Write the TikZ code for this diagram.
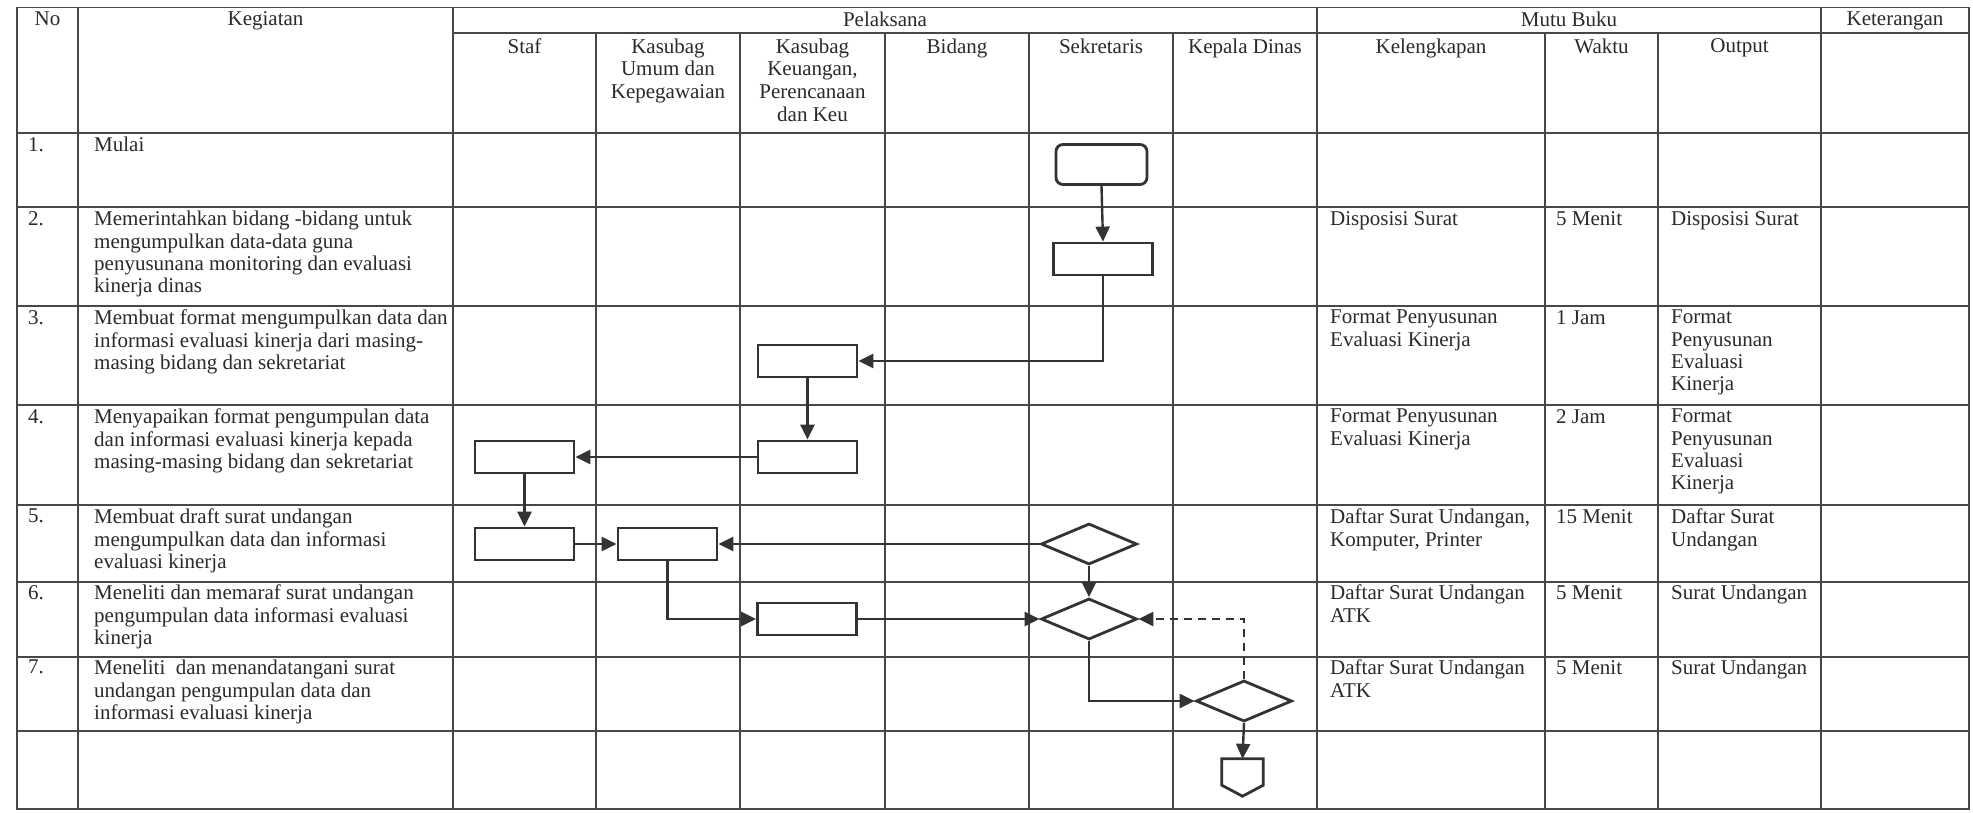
\documentclass[tikz,border=0pt]{standalone}
\usepackage{fontspec}
\setmainfont{Liberation Serif}
\usetikzlibrary{shapes.geometric,arrows.meta,calc}
\definecolor{gridc}{HTML}{474747}
\definecolor{shapec}{HTML}{333333}
\definecolor{textc}{HTML}{2A2A2A}
\begin{document}
\begin{tikzpicture}[x=1pt,y=-1pt,
  gridline/.style={draw=gridc, line width=1.6pt},
  pbox/.style={draw=shapec, line width=2.8pt, minimum width=99pt, minimum height=32pt, inner sep=0pt},
  startbox/.style={pbox, rounded corners=7pt, minimum width=91pt, minimum height=40pt},
  decbox/.style={diamond, draw=shapec, line width=2.8pt, minimum width=96pt, minimum height=41pt, inner sep=0pt},
  flow/.style={draw=shapec, line width=2.4pt, -{Triangle[length=15pt,width=14pt]}},
  cellt/.style={anchor=north west, inner sep=0pt, align=left, text=textc, font=\fontsize{21}{22.3}\selectfont},
  hdrt/.style={anchor=north, inner sep=0pt, align=center, text=textc, font=\fontsize{21}{22.6}\selectfont}]
\useasboundingbox (0,0) rectangle (1973,812);
\fill[white] (0,0) rectangle (1973,812);

% ---------- grid ----------
\draw[gridline] (17,7.5) rectangle (1969,809);
\foreach \x in {78,453,1317,1821} \draw[gridline] (\x,7.5) -- (\x,809);
\foreach \x in {596,740,885,1029,1173,1545,1658} \draw[gridline] (\x,33) -- (\x,809);
\draw[gridline] (453,33) -- (1969,33);
\foreach \y in {133,207,306,405,505,582,657,731} \draw[gridline] (17,\y) -- (1969,\y);

% ---------- header ----------
\node[hdrt] (hno) at (47.5,11.5) {No};
\node[hdrt] (hkeg) at (265.5,11.5) {Kegiatan};
\node[hdrt] (hpel) at (885,11.5) {Pelaksana};
\node[hdrt] (hmutu) at (1569,11.5) {Mutu Buku};
\node[hdrt] (hket) at (1895,11.5) {Keterangan};
\node[hdrt] (hstaf) at (524.5,38.5) {Staf};
\node[hdrt] (hkuk) at (668,38.5) {Kasubag\\Umum dan\\Kepegawaian};
\node[hdrt] (hkkp) at (812.5,38.5) {Kasubag\\Keuangan,\\Perencanaan\\dan Keu};
\node[hdrt] (hbid) at (957,38.5) {Bidang};
\node[hdrt] (hsek) at (1101,38.5) {Sekretaris};
\node[hdrt] (hkd) at (1245,38.5) {Kepala Dinas};
\node[hdrt] (hkel) at (1431,38.5) {Kelengkapan};
\node[hdrt] (hwak) at (1601.5,38.5) {Waktu};
\node[hdrt] (hout) at (1739.5,38.5) {Output};

% ---------- rows ----------
\node[cellt] (n1) at (28,137) {1.};
\node[cellt] (k1) at (94,137) {Mulai};

\node[cellt] (n2) at (28,211) {2.};
\node[cellt] (k2) at (94,211) {Memerintahkan bidang -bidang untuk\\mengumpulkan data-data guna\\penyusunana monitoring dan evaluasi\\kinerja dinas};
\node[cellt] (l2) at (1330,211) {Disposisi Surat};
\node[cellt] (w2) at (1556,211) {5 Menit};
\node[cellt] (o2) at (1671,211) {Disposisi Surat};

\node[cellt] (n3) at (28,310) {3.};
\node[cellt] (k3) at (94,310) {Membuat format mengumpulkan data dan\\informasi evaluasi kinerja dari masing-\\masing bidang dan sekretariat};
\node[cellt] (l3) at (1330,310) {Format Penyusunan\\Evaluasi Kinerja};
\node[cellt] (w3) at (1556,310) {1 Jam};
\node[cellt] (o3) at (1671,310) {Format\\Penyusunan\\Evaluasi\\Kinerja};

\node[cellt] (n4) at (28,409) {4.};
\node[cellt] (k4) at (94,409) {Menyapaikan format pengumpulan data\\dan informasi evaluasi kinerja kepada\\masing-masing bidang dan sekretariat};
\node[cellt] (l4) at (1330,409) {Format Penyusunan\\Evaluasi Kinerja};
\node[cellt] (w4) at (1556,409) {2 Jam};
\node[cellt] (o4) at (1671,409) {Format\\Penyusunan\\Evaluasi\\Kinerja};

\node[cellt] (n5) at (28,509) {5.};
\node[cellt] (k5) at (94,509) {Membuat draft surat undangan\\mengumpulkan data dan informasi\\evaluasi kinerja};
\node[cellt] (l5) at (1330,509) {Daftar Surat Undangan,\\Komputer, Printer};
\node[cellt] (w5) at (1556,509) {15 Menit};
\node[cellt] (o5) at (1671,509) {Daftar Surat\\Undangan};

\node[cellt] (n6) at (28,585) {6.};
\node[cellt] (k6) at (94,585) {Meneliti dan memaraf surat undangan\\pengumpulan data informasi evaluasi\\kinerja};
\node[cellt] (l6) at (1330,585) {Daftar Surat Undangan\\ATK};
\node[cellt] (w6) at (1556,585) {5 Menit};
\node[cellt] (o6) at (1671,585) {Surat Undangan};

\node[cellt] (n7) at (28,660) {7.};
\node[cellt] (k7) at (94,660) {Meneliti\ \ dan menandatangani surat\\undangan pengumpulan data dan\\informasi evaluasi kinerja};
\node[cellt] (l7) at (1330,660) {Daftar Surat Undangan\\ATK};
\node[cellt] (w7) at (1556,660) {5 Menit};
\node[cellt] (o7) at (1671,660) {Surat Undangan};

% ---------- flowchart ----------
\node[startbox] (st) at (1101.5,164.5) {};
\node[pbox] (b2) at (1103,259) {};
\node[pbox] (b3) at (807.5,361) {};
\node[pbox] (b4k) at (807.5,457) {};
\node[pbox] (b4s) at (524.5,457) {};
\node[pbox] (b5s) at (524.5,544) {};
\node[pbox] (b5u) at (667.5,544) {};
\node[decbox] (d5) at (1089,544) {};
\node[pbox] (b6) at (807,619) {};
\node[decbox] (d6) at (1089,619) {};
\node[decbox] (d7) at (1244,701) {};
\node[minimum width=41pt, minimum height=37pt, inner sep=0pt] (off) at (1242.5,777.5) {};
\draw[draw=shapec, line width=2.8pt, line join=miter] (off.north west) -- (off.north east) -- ([yshift=11pt]off.south east) -- (off.south) -- ([yshift=11pt]off.south west) -- cycle;

\draw[flow] (st.south) -- (b2.north);
\draw[flow] (b2.south) |- (b3.east);
\draw[flow] (b3.south) -- (b4k.north);
\draw[flow] (b4k.west) -- (b4s.east);
\draw[flow] (b4s.south) -- (b5s.north);
\draw[flow] (b5s.east) -- (b5u.west);
\draw[flow] (d5.west) -- (b5u.east);
\draw[flow] (d5.south) -- (d6.north);
\draw[flow] (b5u.south) |- (b6.west);
\draw[flow] (b6.east) -- (d6.west);
\draw[flow] (d6.south) |- (d7.west);
\draw[flow, dashed, dash pattern=on 8pt off 6pt] (d7.north) |- (d6.east);
\draw[flow] (d7.south) -- (off.north);
\end{tikzpicture}
\end{document}
